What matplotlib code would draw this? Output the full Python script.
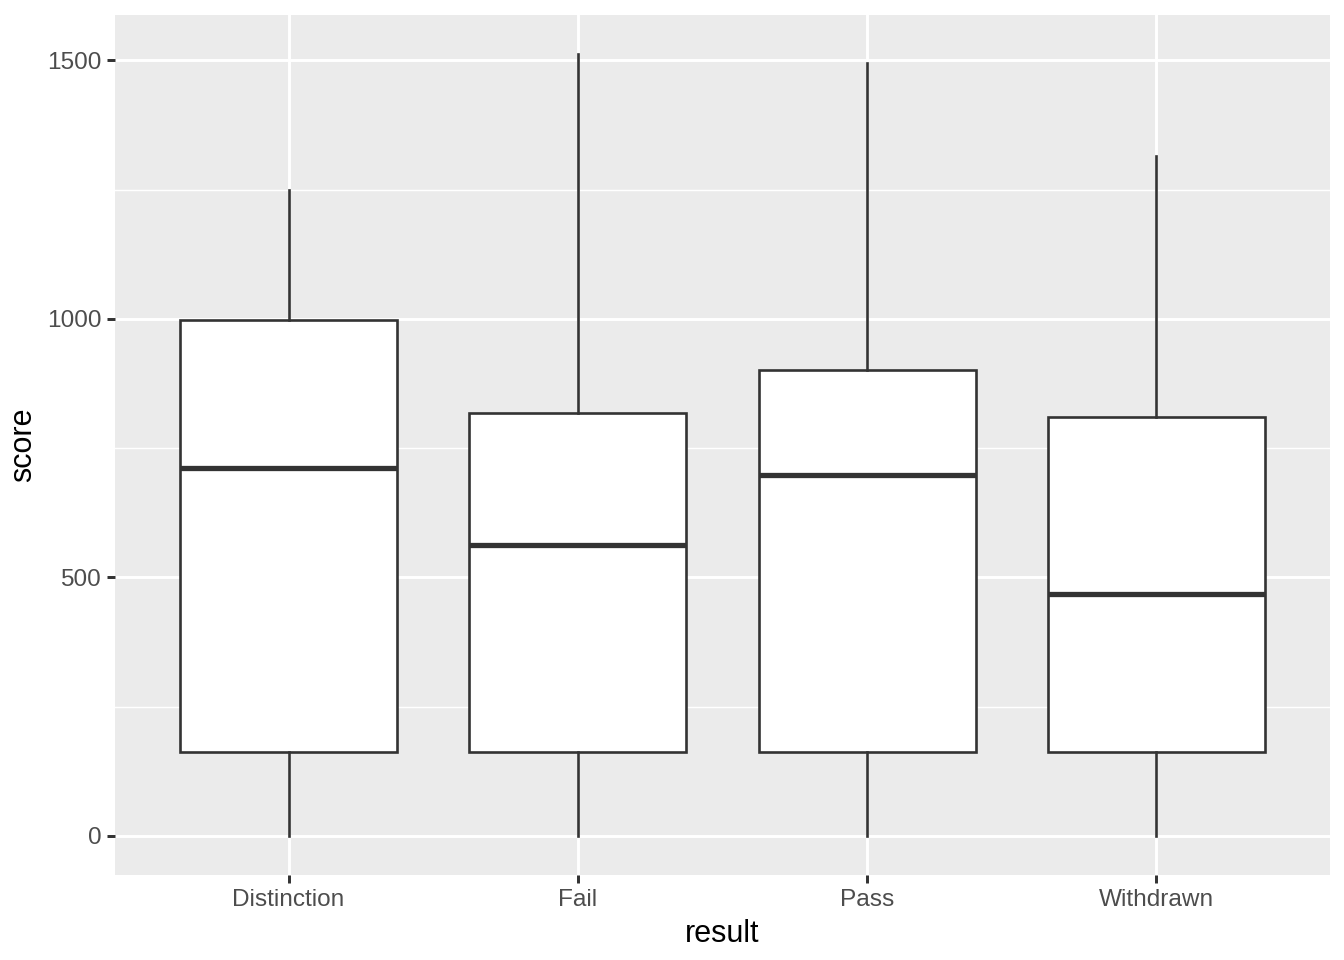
import matplotlib
matplotlib.use('Agg')
import matplotlib.pyplot as plt
from matplotlib.ticker import MultipleLocator

plt.rcParams['font.family'] = ['Liberation Sans', 'DejaVu Sans']

# values
results = ['Distinction', 'Fail', 'Pass', 'Withdrawn']
whisker_low = [0, 0, 0, 0]
q1 = [162, 162, 162, 162]
median = [711, 562, 698, 468]
q3 = [997, 817, 901, 810]
whisker_high = [1250, 1512, 1494, 1314]

stats = []
for i, name in enumerate(results):
    stats.append({'label': name, 'whislo': whisker_low[i], 'q1': q1[i], 'med': median[i],
                  'q3': q3[i], 'whishi': whisker_high[i], 'fliers': []})

fig = plt.figure(figsize=(6.72, 4.8), dpi=200)
ax = fig.add_axes([115 / 1344, 1 - 875 / 960, (1330 - 115) / 1344, (875 - 15) / 960])
ax.set_facecolor('#EBEBEB')

line_col = '#333333'
lw = 0.95
ax.bxp(stats, positions=range(1, 5), widths=0.75, patch_artist=True, showcaps=False,
       boxprops=dict(facecolor='white', edgecolor=line_col, linewidth=lw),
       whiskerprops=dict(color=line_col, linewidth=lw),
       medianprops=dict(color=line_col, linewidth=lw * 2, solid_capstyle='butt'),
       zorder=3)

ax.set_xlim(0.4, 4.6)
ax.set_ylim(-75.6, 1587.6)
ax.yaxis.set_major_locator(MultipleLocator(500))
ax.yaxis.set_minor_locator(MultipleLocator(250))
ax.set_xticks(range(1, 5))
ax.set_xticklabels(results)

ax.grid(which='major', color='white', linewidth=1.07)
ax.grid(which='minor', axis='y', color='white', linewidth=0.53)
ax.set_axisbelow(True)
for s in ax.spines.values():
    s.set_visible(False)

ax.tick_params(which='major', length=2.75, width=1.07, color=line_col,
               labelsize=8.8, labelcolor='#4D4D4D', pad=2.2)
ax.tick_params(which='minor', length=0)

ax.set_xlabel('result', fontsize=11, color='black', labelpad=3)
ax.set_ylabel('score', fontsize=11, color='black', labelpad=3)

fig.savefig('out.png', dpi=200)
